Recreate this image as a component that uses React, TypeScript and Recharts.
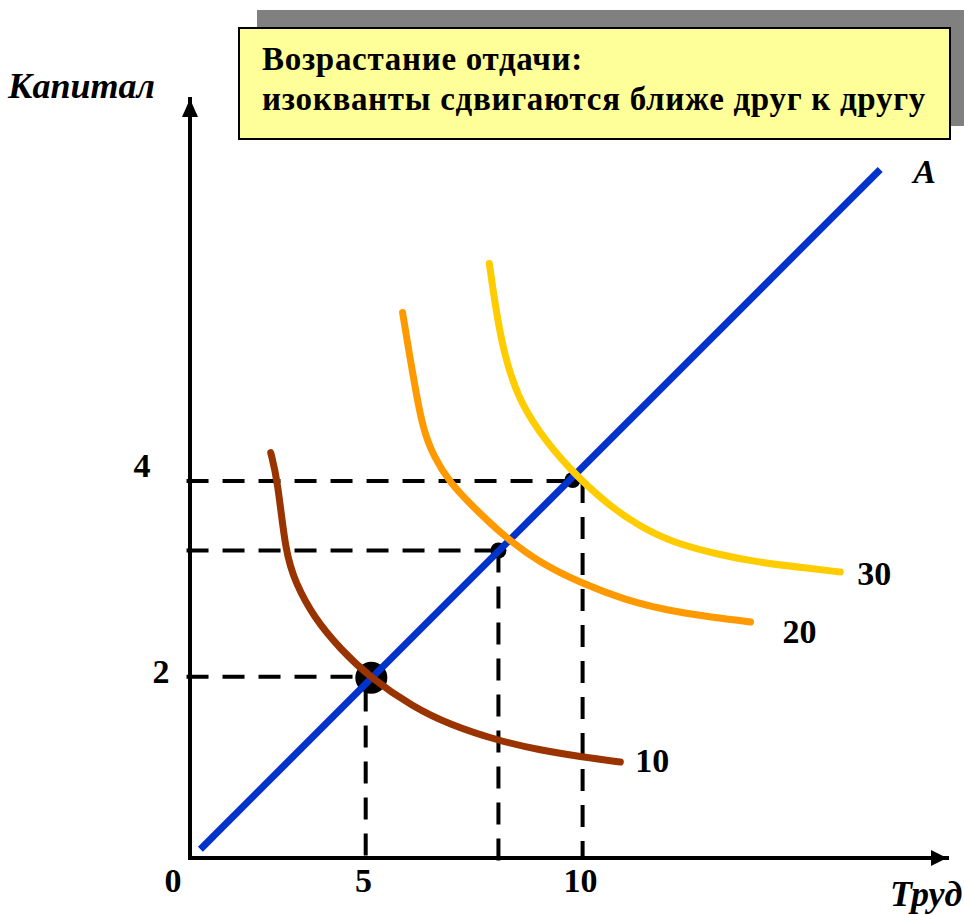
import {
  ComposedChart,
  Line,
  Scatter,
  XAxis,
  YAxis,
  ReferenceLine,
  ReferenceDot,
} from 'recharts';

// isoquant values (labour, capital)
const q10 = [
  { x: 2.86, y: 4.29 }, { x: 3.02, y: 4.01 }, { x: 3.2, y: 3.27 }, { x: 3.43, y: 2.96 },
  { x: 3.85, y: 2.61 }, { x: 4.47, y: 2.28 }, { x: 5.16, y: 1.99 }, { x: 6.15, y: 1.69 },
  { x: 7.0, y: 1.51 }, { x: 8.09, y: 1.35 }, { x: 9.08, y: 1.25 }, { x: 10.05, y: 1.18 },
  { x: 10.92, y: 1.13 },
];
const q20 = [
  { x: 5.9, y: 5.72 }, { x: 6.04, y: 5.34 }, { x: 6.2, y: 4.93 }, { x: 6.36, y: 4.55 },
  { x: 6.61, y: 4.25 }, { x: 7.0, y: 3.98 }, { x: 7.47, y: 3.76 }, { x: 8.27, y: 3.42 },
  { x: 9.08, y: 3.16 }, { x: 10.0, y: 2.96 }, { x: 10.99, y: 2.79 }, { x: 12.14, y: 2.66 },
  { x: 13.92, y: 2.56 },
];
const q30 = [
  { x: 7.9, y: 6.22 }, { x: 8.04, y: 5.78 }, { x: 8.23, y: 5.31 }, { x: 8.55, y: 4.86 },
  { x: 9.01, y: 4.52 }, { x: 9.7, y: 4.14 }, { x: 10.62, y: 3.76 }, { x: 11.38, y: 3.53 },
  { x: 12.14, y: 3.37 }, { x: 13.16, y: 3.25 }, { x: 14.08, y: 3.17 }, { x: 15.23, y: 3.11 },
  { x: 15.99, y: 3.07 },
];
const rayA = [{ x: 1.24, y: 0.24 }, { x: 16.91, y: 7.18 }];

// tangency points on ray A
const points = [
  { x: 5.18, y: 1.99, r: 16 },
  { x: 8.11, y: 3.29, r: 8 },
  { x: 9.82, y: 4.01, r: 8 },
];
// dashed guides: x, y, where the vertical part starts
const guides = [
  { x: 5.05, y: 2.0, top: 1.87 },
  { x: 8.11, y: 3.29, top: 3.29 },
  { x: 10.05, y: 4.0, top: 4.0 },
];

const xTicks = [1, 5, 10];
const xTickLabels: Record<number, string> = { 1: '0', 5: '5', 10: '10' };
const yTicks = [2, 4];

const curveLabels = [
  { x: 15.99, y: 3.07, text: '30', dx: 17, dy: 13, italic: false },
  { x: 13.92, y: 2.56, text: '20', dx: 32, dy: 21, italic: false },
  { x: 10.92, y: 1.13, text: '10', dx: 15, dy: 10, italic: false },
  { x: 16.91, y: 7.18, text: 'A', dx: 33, dy: 13, italic: true },
];

const X_MIN = 1;
const X_MAX = 18.45;
const Y_MIN = 0.15;
const Y_MAX = 7.9;

const serif = '"Liberation Serif", "Times New Roman", serif';

function XTick(props: any) {
  const { x, y, payload } = props;
  const v = payload.value;
  const shift = v === 1 ? -17 : 0;
  return (
    <text x={x + shift} y={y + 32} textAnchor="middle" fontFamily={serif} fontWeight="bold" fontSize={34} fill="#000">
      {xTickLabels[v]}
    </text>
  );
}

function YTick(props: any) {
  const { y, payload } = props;
  const v = payload.value;
  const cx = v === 4 ? 142 : 161;
  const dy = v === 4 ? -4 : 6;
  return (
    <text x={cx} y={y + dy} textAnchor="middle" fontFamily={serif} fontWeight="bold" fontSize={34} fill="#000">
      {v}
    </text>
  );
}

function Dot(props: any) {
  const { cx, cy, payload } = props;
  return <circle cx={cx} cy={cy} r={payload.r} fill="#000" />;
}

function RightArrow(props: any) {
  const { cx, cy } = props;
  return <polygon points={`${cx},${cy} ${cx - 16},${cy - 8} ${cx - 16},${cy + 8}`} fill="#000" />;
}

function UpArrow(props: any) {
  const { cx, cy } = props;
  return <polygon points={`${cx},${cy} ${cx - 8},${cy + 18} ${cx + 8},${cy + 18}`} fill="#000" />;
}

export default function App() {
  return (
    <div style={{ position: 'absolute', left: 0, top: 0, width: 964, height: 915, background: '#fff' }}>
      <ComposedChart
        width={964}
        height={915}
        margin={{ top: 99, right: 17, bottom: 0, left: 0 }}
      >
        <XAxis
          type="number"
          dataKey="x"
          domain={[X_MIN, X_MAX]}
          ticks={xTicks}
          allowDataOverflow
          axisLine={{ stroke: '#000', strokeWidth: 4, strokeLinecap: 'square' }}
          tickLine={false}
          tickSize={0}
          tick={<XTick />}
          height={57}
        />
        <YAxis
          type="number"
          dataKey="y"
          domain={[Y_MIN, Y_MAX]}
          ticks={yTicks}
          allowDataOverflow
          axisLine={{ stroke: '#000', strokeWidth: 4, strokeLinecap: 'square' }}
          tickLine={false}
          tickSize={0}
          tick={<YTick />}
          width={190}
        />

        {guides.map((g, i) => (
          <ReferenceLine
            key={`h${i}`}
            segment={[{ x: 0.92, y: g.y }, { x: g.x, y: g.y }]}
            stroke="#000"
            strokeWidth={4}
            strokeDasharray="22 14"
            ifOverflow="visible"
          />
        ))}
        {guides.map((g, i) => (
          <ReferenceLine
            key={`v${i}`}
            segment={[{ x: g.x, y: g.top }, { x: g.x, y: i === 1 ? 0.09 : Y_MIN }]}
            stroke="#000"
            strokeWidth={4}
            strokeDasharray="22 14"
            ifOverflow="visible"
          />
        ))}

        <Scatter data={points} dataKey="y" shape={<Dot />} zIndex={350} isAnimationActive={false} />

        <Line data={rayA} dataKey="y" type="linear" stroke="#0033CC" strokeWidth={7} dot={false} activeDot={false} zIndex={400} isAnimationActive={false} />
        <Line data={q10} dataKey="y" type="basis" stroke="#993300" strokeWidth={7} strokeLinecap="round" dot={false} activeDot={false} zIndex={410} isAnimationActive={false} />
        <Line data={q20} dataKey="y" type="basis" stroke="#FF9900" strokeWidth={7} strokeLinecap="round" dot={false} activeDot={false} zIndex={410} isAnimationActive={false} />
        <Line data={q30} dataKey="y" type="basis" stroke="#FFCC00" strokeWidth={7} strokeLinecap="round" dot={false} activeDot={false} zIndex={410} isAnimationActive={false} />

        <ReferenceDot x={X_MAX} y={Y_MIN} r={1} shape={<RightArrow />} ifOverflow="visible" />
        <ReferenceDot x={X_MIN} y={Y_MAX} r={1} shape={<UpArrow />} ifOverflow="visible" />

        {curveLabels.map((l, i) => (
          <ReferenceDot
            key={`l${i}`}
            x={l.x}
            y={l.y}
            r={1}
            ifOverflow="visible"
            shape={(props: any) => (
              <text
                x={props.cx + l.dx}
                y={props.cy + l.dy}
                fontFamily={serif}
                fontWeight="bold"
                fontStyle={l.italic ? 'italic' : 'normal'}
                fontSize={34}
                fill="#000"
              >
                {l.text}
              </text>
            )}
          />
        ))}
      </ComposedChart>

      <div style={{ position: 'absolute', left: 257, top: 10, width: 707, height: 116, background: '#808080' }} />
      <div
        style={{
          position: 'absolute',
          left: 238,
          top: 27,
          width: 713,
          height: 113,
          background: '#FFFF99',
          border: '2px solid #000',
          fontFamily: serif,
          fontWeight: 'bold',
          fontSize: 33,
          letterSpacing: 0.7,
          lineHeight: '40px',
          color: '#000',
          padding: '10px 0 0 22px',
          boxSizing: 'border-box',
          whiteSpace: 'nowrap',
        }}
      >
        <div>Возрастание отдачи:</div>
        <div>изокванты сдвигаются ближе друг к другу</div>
      </div>

      <div style={{ position: 'absolute', left: 8, top: 65, fontFamily: serif, fontWeight: 'bold', fontStyle: 'italic', fontSize: 36, lineHeight: 'normal', color: '#000' }}>
        Капитал
      </div>
      <div style={{ position: 'absolute', left: 890, top: 873, fontFamily: serif, fontWeight: 'bold', fontStyle: 'italic', fontSize: 36, lineHeight: 'normal', color: '#000' }}>
        Труд
      </div>
    </div>
  );
}
